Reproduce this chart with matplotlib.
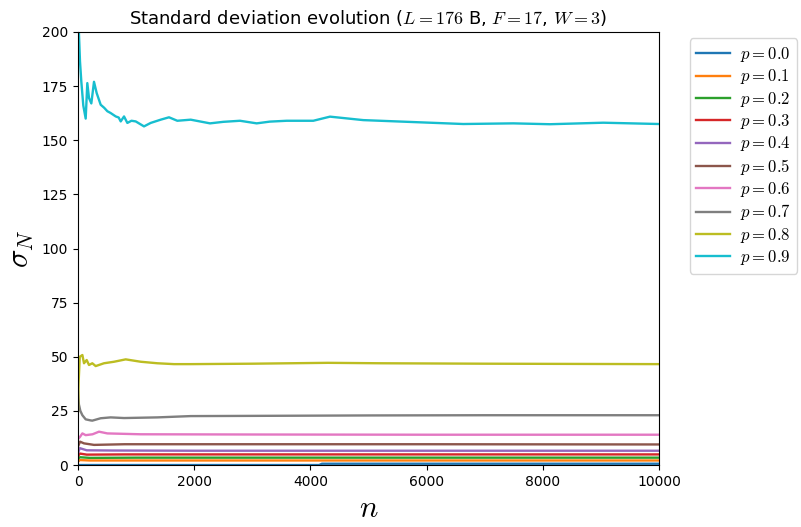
import numpy as np
import matplotlib.pyplot as plt

plt.rcParams['mathtext.fontset'] = 'cm'
plt.rcParams['font.family'] = ['DejaVu Sans']

# values (n, sigma_N)
n_00 = [0, 4150, 4200, 10000]
s_00 = [0.0, 0.0, 0.6, 0.6]

n_01 = [0, 30, 200, 1000, 5000, 10000]
s_01 = [1.5, 2.3, 2.1, 2.1, 2.1, 2.1]

n_02 = [0, 30, 200, 1000, 5000, 10000]
s_02 = [2.8, 3.6, 3.3, 3.4, 3.4, 3.4]

n_03 = [0, 30, 150, 800, 5000, 10000]
s_03 = [4.0, 5.3, 4.8, 4.9, 4.9, 4.9]

n_04 = [0, 30, 150, 600, 2000, 5000, 10000]
s_04 = [5.5, 7.8, 6.8, 6.7, 6.6, 6.6, 6.6]

n_05 = [0, 34, 103, 275, 800, 3000, 6000, 10000]
s_05 = [8.5, 10.8, 10.0, 9.3, 9.6, 9.6, 9.6, 9.5]

n_06 = [0, 34, 75, 132, 250, 361, 505, 1079, 3000, 6000, 10000]
s_06 = [12.0, 13.0, 14.6, 13.8, 14.2, 15.4, 14.6, 14.2, 14.1, 14.0, 14.0]

n_07 = [0, 15, 40, 75, 132, 218, 246, 390, 562, 792, 1365, 1940, 3000, 5000, 7000, 10000]
s_07 = [34.0, 28.0, 25.0, 23.0, 21.1, 20.6, 20.5, 21.6, 22.0, 21.7, 22.0, 22.6, 22.7, 22.9, 23.0, 23.0]

n_08 = [0, 10, 30, 75, 103, 149, 189, 246, 304, 447, 620, 821, 1079, 1365, 1652, 1940,
        3000, 4300, 5200, 7000, 10000]
s_08 = [25.0, 38.0, 50.0, 50.8, 47.0, 48.5, 46.2, 47.0, 45.7, 47.0, 47.7, 48.8, 47.7, 47.0,
        46.6, 46.6, 46.8, 47.2, 47.0, 46.8, 46.6]

n_09 = [0, 15, 34, 57, 91, 132, 160, 189, 229, 275, 321, 390, 450, 505, 560, 649, 700, 735,
        792, 849, 920, 993, 1136, 1251, 1423, 1566, 1709, 1940, 2272, 2500, 2788, 3075, 3300,
        3592, 4050, 4337, 4910, 5771, 6631, 7492, 8123, 9041, 10000]
s_09 = [215.0, 200.0, 186.4, 177.0, 166.0, 160.0, 176.4, 169.5, 167.0, 177.0, 171.8, 166.4,
        165.0, 163.4, 162.6, 161.0, 160.5, 158.7, 161.0, 158.0, 159.0, 158.7, 156.4, 158.0,
        159.5, 160.6, 159.0, 159.5, 157.8, 158.5, 159.0, 157.8, 158.6, 159.0, 159.0, 160.9,
        159.3, 158.4, 157.5, 157.8, 157.4, 158.1, 157.5]

ps = ['0.0', '0.1', '0.2', '0.3', '0.4', '0.5', '0.6', '0.7', '0.8', '0.9']
ns = [n_00, n_01, n_02, n_03, n_04, n_05, n_06, n_07, n_08, n_09]
ss = [s_00, s_01, s_02, s_03, s_04, s_05, s_06, s_07, s_08, s_09]

fig = plt.figure(figsize=(8.01, 5.27), dpi=100)
ax = fig.add_axes([0.0974, 0.1176, 0.7253, 0.8217])

for p, n, s in zip(ps, ns, ss):
    ax.plot(n, s, lw=1.7, label=r'$p = %s$' % p)

ax.set_xlim(0, 10000)
ax.set_ylim(0, 200)
ax.set_yticks(np.arange(0, 201, 25))
ax.tick_params(labelsize=10)
ax.set_xlabel(r'$n$', fontsize=22)
ax.set_ylabel(r'$\sigma_N$', fontsize=22)
ax.set_title(r'Standard deviation evolution ($L = 176$ B, $F = 17$, $W = 3$)', fontsize=13)
ax.legend(loc='upper left', bbox_to_anchor=(1.053, 0.985), borderaxespad=0,
          fontsize=12, handlelength=2.0, labelspacing=0.2, handletextpad=0.6,
          borderpad=0.4)

fig.savefig('out.png', dpi=100)
